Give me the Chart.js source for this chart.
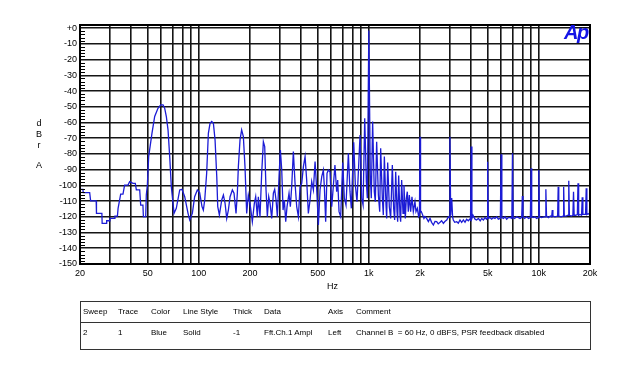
<!DOCTYPE html>
<html>
<head>
<meta charset="utf-8">
<script src="https://cdn.jsdelivr.net/npm/chart.js@4.4.1/dist/chart.umd.min.js"></script>
<style>
    body { margin: 0; background: #fff; font-family: "Liberation Sans", Arial, sans-serif; }
    #wrap { position: relative; width: 622px; height: 367px; overflow: hidden; }
    #fftChart { position: absolute; left: 0; top: 0; }
    .lbl { position: absolute; font-size: 9px; color: #000; white-space: nowrap; line-height: 10px; }
    .side { left: 35px; width: 8px; text-align: center; }
    #logo { position: absolute; left: 564px; top: 21px; font: italic bold 20px "Liberation Sans", Arial, sans-serif; color: #1414e6; letter-spacing: -1.5px; }
    #legendTable { position: absolute; left: 80px; top: 301px; width: 509px; height: 47px; border: 1px solid #333; }
    #legendTable .rule { position: absolute; left: 0; right: 0; top: 20px; border-top: 1px solid #333; }
    .cell { position: absolute; font-size: 8px; line-height: 10px; white-space: nowrap; color: #000; }
</style>
</head>
<body>
<div id="wrap">
    <canvas id="fftChart" width="622" height="367"></canvas>
    <div class="lbl side" style="top:118px;">d</div>
    <div class="lbl side" style="top:129px;">B</div>
    <div class="lbl side" style="top:140px;">r</div>
    <div class="lbl side" style="top:160px;">A</div>
    <div class="lbl" style="left:327px; top:281px;">Hz</div>
    <div id="logo">Ap</div>
    <div id="legendTable"><div class="rule"></div></div>
</div>
<script>
// tick values / labels
const dbTicks = [0, -10, -20, -30, -40, -50, -60, -70, -80, -90, -100, -110, -120, -130, -140, -150];
const freqGrid = [20, 30, 40, 50, 60, 70, 80, 90, 100, 200, 300, 400, 500, 600, 700, 800, 900,
    1000, 2000, 3000, 4000, 5000, 6000, 7000, 8000, 9000, 10000, 20000];
const freqLabelValues = [20, 50, 100, 200, 500, 1000, 2000, 5000, 10000, 20000];
const freqLabelText = ['20', '50', '100', '200', '500', '1k', '2k', '5k', '10k', '20k'];

// FFT trace (Hz, dBr)
const freqHz = [
    20, 20.8, 20.9, 22.8, 23.1, 24.9, 25.0, 26.9, 27.0, 28.6, 28.7, 29.9, 30.0, 32.0, 32.1, 33.2,
    33.5, 34.7, 35.8, 36.6, 38.3, 39.2, 41.0, 42.3, 42.9, 44.9, 45.5, 46.9, 47.2, 48.7, 49.1, 49.8,
    50.7, 53.0, 55.0, 57.5, 59.7, 61.6, 63.0, 64.4, 65.9, 67.4, 68.9, 71.5, 73.7, 77.2, 79.6, 82.6,
    86.4, 88.4, 91.6, 94.5, 98.0, 101.1, 104.4, 106.3, 108.3,
    111.2, 113.8, 116.4, 119.1, 121.8, 124.6, 127.5, 129.2, 132.1, 136.4, 139.5, 142.7, 145.9, 149.2,
    152.7, 157.5, 161.1, 165.5, 168.5, 170.8, 174.7, 178.6, 182.8, 186.9, 191.2, 195.5, 200, 206.4,
    212.1, 216, 220.9, 223.9, 229, 234.3, 239.7, 244.1, 248.5, 253, 257.7, 262.4, 268.4, 274.5, 279.5,
    284.6, 289.8, 296.4, 301.8, 307.4, 313, 318.5, 324.4, 330.3, 339.3, 345.5, 351.8, 359.8, 368.1,
    376.5, 385.2, 393.9, 403, 412.2, 421.7, 430.9, 440.8, 451, 461.4, 471.9, 482.8, 493.9, 505,
    516.4, 528.5, 540.2, 547.5, 557.4, 567.6, 577.9,
    591, 605, 619, 632, 647, 656, 668, 683, 702, 718, 734, 758, 775, 789, 815, 833, 852, 888, 908,
    925, 946, 967, 980, 1000, 1020, 1034, 1053, 1077, 1092, 1112, 1138, 1159, 1174, 1201, 1217,
    1234, 1262, 1274, 1291, 1320, 1344, 1375, 1400, 1419, 1439, 1465, 1478, 1498, 1525, 1539,
    1560, 1589, 1610, 1639, 1662, 1684, 1707, 1731, 1762, 1794, 1827, 1868, 1894, 1929, 1964, 1985,
    2000, 2015, 2036, 2073, 2110, 2139, 2188, 2240, 2291, 2340, 2397, 2450, 2507, 2560, 2624, 2680,
    2745, 2800, 2872, 2937, 2975, 3000, 3030, 3073, 3110, 3141, 3200, 3286, 3361, 3438, 3517, 3600,
    3680, 3760, 3850, 3921, 3965, 4000, 4040, 4100, 4215, 4300, 4410, 4520, 4614, 4720, 4828, 4920,
    4960, 5000, 5040, 5150, 5280, 5400, 5524, 5650, 5780, 5940, 6000, 6060, 6200, 6325, 6470, 6617,
    6800, 6940, 7000, 7060, 7200, 7407, 7600, 7750, 7930, 8000, 8070, 8250, 8485, 8700, 8920, 9000,
    9080, 9250, 9495, 9700, 9910, 10000, 10090, 10394, 10700, 10900, 11000, 11100, 11375, 11700,
    11900, 12000, 12100, 12450, 12900, 13000, 13100, 13505, 13880, 14000, 14120, 14450, 14870,
    15000, 15130, 15530, 15860, 16000, 16140, 16470, 16850, 17000, 17150, 17470, 17840, 18000,
    18160, 18520, 18830, 19000, 19170, 19500, 19850, 20000
];
const levelDb = [
    -102.5, -102.5, -104.6, -104.6, -109.9, -109.9, -117.8, -117.8, -124.2, -124.2, -122.5, -122.5, -121, -121, -119.5, -119.5,
    -114.6, -105.5, -105.5, -99.8, -99.8, -97.6, -98.7, -98.7, -102.9, -102.9, -112.5, -112.5, -119.9, -119.9, -106.1, -100,
    -81.7, -66.9, -56.2, -51, -48.8, -48.8, -51, -56.2, -64.7, -81.7, -100.8, -117.8, -114.6, -102.9, -102.5, -107.2,
    -117.8, -122, -117.8, -107.2, -102.9, -104.6, -113.5, -115.7, -109.3,
    -92.3, -66.9, -60.5, -59.4, -60.5, -71.1, -94.4, -113.5, -118.8, -109.3, -106.1, -111.4, -121, -115.7,
    -107.2, -102.9, -105, -117.8, -105, -88.1, -71.1, -64.7, -69, -88.1, -117.8, -106.1, -111.4, -123.1,
    -111.4, -107.2, -119.9, -107.2, -119.9, -92.3, -72.2, -75.3, -102.9, -119.9, -107.2, -111.4, -121, -105, -102.5,
    -109.3, -119.9, -94.4, -77.5, -90.2, -115.7, -109.3, -123.1, -113.5, -105, -113.5, -100.8, -78.5, -98.7,
    -113.5, -119.9, -100.8, -98.7, -88.1, -81.7, -96.6, -117.8, -109.3, -97.6, -102.9, -84.9, -102.9, -125.2,
    -102.9, -94.4, -90.2, -100.8, -123.1, -92.3, -90.2,
    -91.3, -113.6, -99.8, -87, -104, -96.6, -116.7, -119.9, -85.5, -108.2, -112.5, -79.6, -104, -114.6, -72.6, -99.8, -110.4, -67.9, -108.2,
    -112.5, -57.3, -97.6, -108.2, -1.5, -93.4, -108.2, -59.4, -104, -110.4, -72.2, -106.1, -116.7, -76.4, -108.2, -118.9,
    -81.7, -112.5, -121, -85.5, -113.6, -121, -87, -114.6, -122, -91.3, -116.7, -123.1, -93.8, -118.9, -123.1,
    -96.6, -117.8, -99.8, -121, -108.2, -104, -116.7, -106.1, -116.7, -107.2, -116.7, -110.4, -116.7, -114.6, -119.9, -119,
    -69, -117, -116.7, -118.9, -121, -119.9, -121, -123, -121, -123.5, -125.2, -123, -123.1, -124.5, -123.5, -122.5,
    -124.2, -123, -122, -120, -120.5, -69, -119, -108, -120, -122, -123.5, -123.1, -124, -122, -123.5, -122,
    -123.5, -121.5, -122.5, -121.5, -122, -75.3, -121, -119, -121.5, -122, -121, -122.5, -121, -122, -120.5, -121.5,
    -121, -84.9, -121, -120.5, -121.5, -120.5, -121, -120, -121.5, -121, -80.2, -120.5, -121, -120, -121.5, -120.5,
    -120.5, -121, -79.6, -120.5, -121, -120, -120.5, -121, -120.5, -106.7, -120, -121, -120, -121, -120.5, -89.1,
    -120, -120.5, -120, -121, -120.5, -90.2, -120, -120.5, -120, -120, -102.5, -119.5, -120.5, -119.5,
    -120, -115.7, -119.5, -120, -119.5, -100.8, -119.5, -120, -119.5, -100.8, -119.5, -119.5, -119,
    -97, -119, -119.5, -119, -104, -119, -119, -118.5, -98.7, -119, -118.5, -119, -107.6,
    -118.5, -118.5, -118.5, -101.9, -118.5, -118, -118.5, -107
];

const tableHeader = ['Sweep', 'Trace', 'Color', 'Line Style', 'Thick', 'Data', 'Axis', 'Comment'];
const tableRow = ['2', '1', 'Blue', 'Solid', '-1', 'Fft.Ch.1 Ampl', 'Left', 'Channel B  = 60 Hz, 0 dBFS, PSR feedback disabled'];
const columnLeft = [2, 37, 70, 102, 152, 183, 247, 275];

function buildTable() {
    const box = document.getElementById('legendTable');
    [tableHeader, tableRow].forEach((row, r) => {
        row.forEach((text, c) => {
            const cell = document.createElement('div');
            cell.className = 'cell';
            cell.style.left = columnLeft[c] + 'px';
            cell.style.top = (r === 0 ? 5 : 26) + 'px';
            cell.textContent = text.replace(/  /g, ' \u00a0');
            box.appendChild(cell);
        });
    });
}

// frame and minor ticks on the left axis
const framePlugin = {
    id: 'frame',
    afterDraw(chart) {
        const { ctx, chartArea: a, scales } = chart;
        ctx.save();
        ctx.strokeStyle = '#000';
        ctx.lineWidth = 1;
        for (let v = -148; v <= 2; v += 2) {
            if (v % 10 === 0) continue;
            const y = Math.round(scales.y.getPixelForValue(v)) + 0.5;
            ctx.beginPath();
            ctx.moveTo(a.left, y);
            ctx.lineTo(a.left + 5, y);
            ctx.stroke();
        }
        ctx.lineWidth = 2;
        ctx.strokeRect(a.left, a.top, a.right - a.left, a.bottom - a.top);
        ctx.restore();
    }
};

function drawChart() {
    const ctx = document.getElementById('fftChart').getContext('2d');
    const points = freqHz.map((f, i) => ({ x: f, y: levelDb[i] }));

    new Chart(ctx, {
        type: 'line',
        data: {
            datasets: [{
                data: points,
                borderColor: 'rgb(28, 28, 214)',
                borderWidth: 1.3,
                pointRadius: 0,
                tension: 0,
                fill: false
            }]
        },
        options: {
            responsive: false,
            animation: false,
            layout: { padding: { top: 25, right: 32, left: 0, bottom: 0 } },
            plugins: { legend: { display: false }, tooltip: { enabled: false } },
            scales: {
                x: {
                    type: 'logarithmic',
                    min: 20,
                    max: 20000,
                    afterBuildTicks: s => { s.ticks = freqGrid.map(v => ({ value: v })); },
                    afterFit: s => { s.height = 103; },
                    grid: { color: '#151515', lineWidth: 1.6, drawTicks: false },
                    border: { display: false },
                    ticks: {
                        autoSkip: false,
                        maxRotation: 0,
                        padding: 4,
                        color: '#000',
                        font: { family: 'Liberation Sans', size: 9 },
                        callback: v => {
                            const i = freqLabelValues.indexOf(v);
                            return i >= 0 ? freqLabelText[i] : '';
                        }
                    }
                },
                y: {
                    min: -150,
                    max: 2,
                    afterBuildTicks: s => { s.ticks = dbTicks.map(v => ({ value: v })); },
                    afterFit: s => { s.width = 80; },
                    grid: { color: '#151515', lineWidth: 1.6, drawTicks: false },
                    border: { display: false },
                    ticks: {
                        padding: 3,
                        color: '#000',
                        font: { family: 'Liberation Sans', size: 9 },
                        callback: v => (v === 0 ? '+0' : String(v))
                    }
                }
            }
        },
        plugins: [framePlugin]
    });
}

buildTable();
drawChart();
</script>
</body>
</html>
